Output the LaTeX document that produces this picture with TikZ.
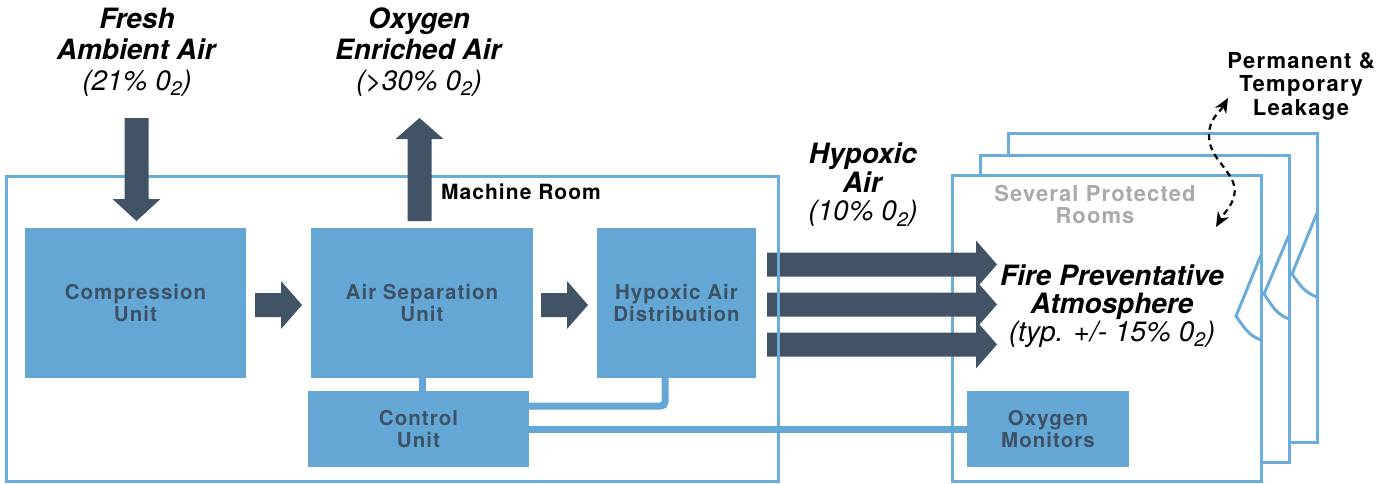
\documentclass[tikz,border=0pt]{standalone}
\usepackage{fontspec}
\setmainfont{TeX Gyre Heros}
\newfontfamily\trackfont[LetterSpace=5]{TeX Gyre Heros}
\newfontfamily\trackwide[LetterSpace=6]{TeX Gyre Heros}
\usetikzlibrary{arrows.meta}
\definecolor{boxblue}{HTML}{64A7D5}
\definecolor{lineblue}{HTML}{6AADDA}
\definecolor{textdark}{HTML}{3E5266}
\definecolor{arrowdark}{HTML}{425365}
\definecolor{roomgray}{HTML}{A8AAAD}
\newcommand\FatRight[4]{% x0, head base, tip, y
  \fill[arrowdark] (#1,#4-12) -- (#2,#4-12) -- (#2,#4-24) -- (#3,#4) -- (#2,#4+24) -- (#2,#4+12) -- (#1,#4+12) -- cycle;}
\newcommand\FatVert[4]{% x, y0, head base, tip
  \fill[arrowdark] (#1-12,#2) -- (#1-12,#3) -- (#1-24,#3) -- (#1,#4) -- (#1+24,#3) -- (#1+12,#3) -- (#1+12,#2) -- cycle;}
\begin{document}
\begin{tikzpicture}[x=1pt,y=-1pt,
  unitbox/.style={fill=boxblue, draw=none, text=textdark, align=center, inner sep=0pt,
    font=\trackfont\bfseries\fontsize{20.5}{21.5}\selectfont},
  biglbl/.style={align=center, inner sep=0pt, text=black, font=\fontsize{28}{31}\selectfont},
  room/.style={fill=white, draw=lineblue, line width=3pt},
  notch/.style={draw=lineblue, line width=3pt},
  conn/.style={draw=boxblue, line width=7pt},
  leak/.style={draw=black, line width=2.2pt, dash pattern=on 6pt off 4.5pt, >={Stealth[length=15pt,width=13pt,line width=0pt]}, <->}
]
\useasboundingbox (0,0) rectangle (1394,483);

% protected rooms
\draw[room] (1008,133) rectangle (1317,442);
\draw[notch] (1317,213) -- (1292,274) to[out=-55,in=160] (1317,297);
\draw[room] (980,155) rectangle (1289,462);
\draw[notch] (1289,235) -- (1264,294) to[out=-55,in=160] (1289,319);
\draw[room] (952,175) rectangle (1261,481);
\draw[notch] (1261,255) -- (1236,316) to[out=-55,in=160] (1261,340);

% big hypoxic arrows
\FatRight{767}{976}{997}{264.5}
\FatRight{767}{976}{997}{304.5}
\FatRight{767}{976}{997}{344.5}

% machine room
\draw[draw=lineblue, line width=3pt] (6,176) rectangle (778,481);
\node[inner sep=0pt, font=\trackfont\bfseries\fontsize{21}{21}\selectfont] (mr) at (521,192) {Machine Room};

% vertical arrows
\FatVert{136.5}{118}{199}{221}
\FatVert{419.5}{221}{139}{118}

% units
\node[unitbox, minimum width=221pt, minimum height=150pt] (comp) at (135.5,303) {Compression\\Unit};
\node[unitbox, minimum width=222pt, minimum height=150pt] (asu) at (422,303) {Air Separation\\Unit};
\node[unitbox, minimum width=159pt, minimum height=150pt] (had) at (676.5,303) {Hypoxic Air\\Distribution};
\node[unitbox, minimum width=221pt, minimum height=76pt] (ctrl) at (418.5,429) {Control\\Unit};
\node[unitbox, minimum width=162pt, minimum height=76pt] (om) at (1048,429) {Oxygen\\Monitors};

% small arrows
\FatRight{255}{281}{302}{305}
\FatRight{541}{567}{588}{305}

% connectors
\draw[conn] (asu.south) -- (asu.south |- ctrl.north);
\draw[conn, rounded corners=4pt] ([yshift=23pt]ctrl.east) -| ([xshift=-11.5pt]had.south);
\draw[conn] (ctrl.east) -- (om.west);

% labels
\node[biglbl] (fresh) at (137,52) {\textbf{\textit{Fresh}}\\\textbf{\textit{Ambient Air}}\\\textit{(21\% 0\textsubscript{2})}};
\node[biglbl] (oxy) at (419,52) {\textbf{\textit{Oxygen}}\\\textbf{\textit{Enriched Air}}\\\textit{(>30\% 0\textsubscript{2})}};
\node[biglbl, font=\fontsize{28}{28.5}\selectfont] (hyp) at (863,185) {\textbf{\textit{Hypoxic}}\\\textbf{\textit{Air}}\\\textit{(10\% 0\textsubscript{2})}};
\node[biglbl, font=\fontsize{28}{28}\selectfont] (fire) at (1112,306) {\textbf{\textit{Fire Preventative}}\\\textbf{\textit{Atmosphere}}\\\textit{(typ. +/- 15\% 0\textsubscript{2})}};
\node[inner sep=0pt, align=center, text=roomgray, font=\trackfont\bfseries\fontsize{22}{22}\selectfont] (spr) at (1095,204) {Several Protected\\Rooms};
\node[inner sep=0pt, align=center, text=black, font=\trackwide\bfseries\fontsize{22}{23.5}\selectfont] (leaktxt) at (1301,86) {Permanent \&\\Temporary\\Leakage};

% leakage arrow
\coordinate (lt) at (1228,98);
\coordinate (lb) at (1216,227);
\draw[leak] (lt) to[out=240,in=90] (1209,135) to[out=-90,in=115] (1233,182) to[out=-70,in=60] (lb);
\end{tikzpicture}
\end{document}
